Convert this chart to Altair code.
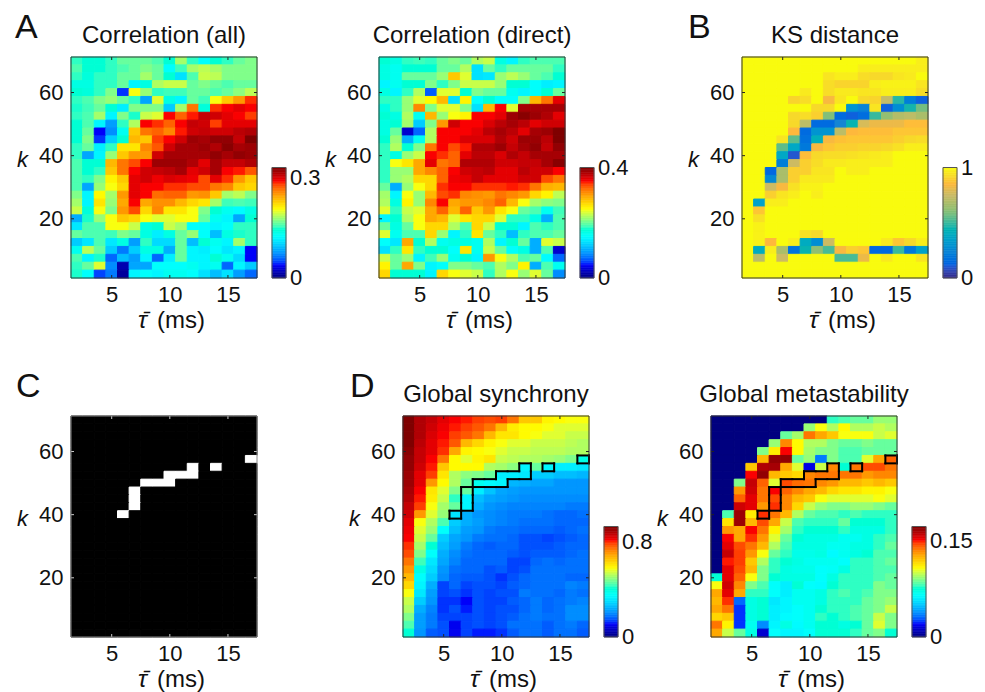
import altair as alt
import numpy as np
import pandas as pd

FONT = "Liberation Sans"
TAU = list(range(2, 18))
K = [70 - 2.5 * i for i in range(28)]

# cell values, top row (k = 70) first, as percent of each colour scale
corr_all = [
[46,44,44,46,50,50,50,48,44,55,46,38,44,46,50,52],
[48,44,44,46,48,50,52,50,38,47,55,57,55,52,52,52],
[46,43,46,46,50,50,55,50,44,33,48,58,57,52,52,52],
[42,42,46,46,50,36,42,56,58,58,50,52,50,48,50,50],
[44,43,46,52,14,62,54,46,47,47,50,50,48,50,53,57],
[46,48,52,54,50,46,25,60,42,36,50,47,62,70,76,86],
[45,47,50,44,35,52,52,52,30,55,80,43,86,88,90,88],
[46,48,55,36,52,45,58,60,88,82,87,93,92,90,88,85],
[44,48,36,24,46,56,88,86,82,88,93,92,85,90,90,90],
[44,50,12,22,40,70,80,82,78,87,92,93,92,92,94,95],
[44,52,14,30,44,72,70,85,88,92,97,96,98,98,93,100],
[46,50,35,46,66,66,78,83,92,96,96,97,95,99,96,97],
[46,25,36,54,70,76,76,92,96,96,96,96,98,96,98,97],
[48,44,44,72,80,84,88,97,97,97,95,90,96,93,93,95],
[48,44,46,70,80,88,92,93,94,96,90,92,96,88,87,83],
[48,46,52,64,70,90,92,89,91,90,89,84,90,86,76,70],
[48,25,54,62,68,90,88,88,86,86,84,84,80,78,70,68],
[52,36,63,55,76,90,88,81,82,82,76,77,70,55,57,52],
[55,36,66,54,74,88,74,77,77,72,68,66,55,47,48,47],
[58,43,62,52,76,84,68,78,66,66,62,52,44,40,37,42],
[26,45,54,62,70,68,62,60,60,62,62,50,40,36,25,44],
[34,48,48,62,62,58,42,44,58,55,38,38,36,38,46,46],
[50,48,48,47,52,50,42,35,42,50,54,38,28,42,45,46],
[30,34,48,34,42,24,46,32,32,50,28,44,40,36,55,46],
[40,57,50,30,20,30,42,42,26,50,36,35,38,34,36,12],
[48,36,45,18,28,24,36,18,35,50,36,36,44,40,32,12],
[46,50,60,22,5,25,25,38,38,38,40,36,40,18,36,30],
[45,38,15,20,3,36,38,36,40,40,38,33,28,33,24,18],
]
corr_direct = [
[44,42,46,47,46,50,52,50,56,58,42,36,46,48,48,48],
[42,40,44,44,44,50,50,56,33,50,46,50,50,50,50,46],
[42,40,50,50,50,54,70,60,33,34,54,57,54,50,48,44],
[36,40,44,44,52,46,52,58,58,58,54,44,44,38,35,36],
[42,36,46,56,17,60,60,44,52,50,50,40,36,38,44,50],
[46,46,54,60,63,72,33,64,38,44,38,38,52,72,80,90],
[42,46,54,78,52,60,60,52,33,72,88,60,96,96,96,96],
[44,42,56,40,72,54,62,64,88,88,90,97,99,97,95,90],
[42,44,55,30,52,76,92,88,88,91,94,96,94,90,92,92],
[42,50,8,18,56,88,88,88,90,94,96,94,90,96,97,100],
[44,54,26,40,56,88,88,91,91,91,95,92,97,97,94,100],
[46,56,44,52,80,88,84,87,95,95,97,93,96,98,93,98],
[46,42,54,58,88,86,82,90,94,94,91,95,93,96,96,96],
[46,62,66,74,90,80,82,95,95,95,92,92,93,93,96,99],
[46,54,54,74,78,82,88,92,93,94,90,90,94,92,92,88],
[46,54,56,68,68,82,89,90,93,90,90,90,92,92,84,80],
[50,26,54,62,68,86,88,88,86,86,86,87,86,80,73,72],
[55,36,62,54,72,84,86,78,77,76,80,78,76,68,64,57],
[56,42,64,54,78,88,74,76,76,78,82,72,62,55,53,52],
[60,46,58,60,74,82,72,82,70,76,66,62,50,48,40,47],
[36,44,56,62,74,72,60,66,68,68,60,46,46,42,26,48],
[50,42,50,62,68,68,56,48,68,58,44,44,36,48,46,48],
[60,40,48,48,68,54,36,46,66,50,46,28,46,48,48,50],
[38,34,74,44,56,40,42,42,40,56,36,44,50,26,60,58],
[33,46,66,46,44,44,38,66,40,58,50,38,42,26,48,8],
[58,50,54,36,47,54,40,44,36,76,62,56,48,50,37,18],
[64,50,74,52,36,38,52,52,50,48,56,52,64,26,48,40],
[68,44,44,44,36,68,62,60,58,46,56,62,54,60,50,22],
]
ks_distance = [
[100,100,100,100,100,100,100,100,100,100,100,100,100,100,100,97],
[100,100,100,100,100,100,100,100,100,100,97,97,97,97,97,97],
[100,100,100,100,100,100,100,95,97,97,93,92,92,95,96,100],
[100,100,100,100,100,100,100,93,91,91,91,97,98,98,98,95],
[100,100,100,100,100,96,100,93,96,96,95,95,97,97,97,93],
[100,100,100,100,91,93,100,84,95,100,92,91,74,48,22,12],
[100,100,100,100,100,100,92,92,100,30,24,95,12,28,46,58],
[100,100,100,100,92,93,90,60,15,12,16,50,63,70,72,68],
[100,100,100,100,92,72,15,15,25,45,78,82,82,82,86,86],
[100,100,100,100,85,15,30,30,72,85,86,86,86,88,88,88],
[100,100,100,95,55,17,42,84,87,88,88,88,88,90,92,93],
[100,100,100,55,38,20,84,88,90,90,91,91,92,94,97,97],
[100,100,100,38,10,86,92,93,93,94,95,96,97,100,100,100],
[100,100,100,22,76,90,93,96,96,97,97,97,97,100,100,100],
[100,100,14,68,90,90,95,95,100,97,97,100,100,100,100,100],
[100,100,26,68,90,96,96,96,100,100,100,100,100,100,100,100],
[100,100,76,84,94,98,98,100,100,100,100,100,100,100,100,100],
[100,100,90,95,97,100,97,100,100,100,100,100,100,100,100,100],
[100,35,97,97,100,100,100,100,100,100,100,100,100,100,100,100],
[100,88,100,100,100,100,100,100,100,100,100,100,100,100,100,100],
[100,94,100,100,100,100,100,100,100,100,100,100,100,100,100,100],
[100,98,100,100,100,100,100,100,100,100,100,100,100,100,100,100],
[100,98,100,100,100,94,92,100,100,100,100,100,100,100,100,100],
[100,98,85,100,97,40,28,76,100,100,100,100,96,88,92,97],
[100,40,97,68,18,45,62,52,84,90,88,14,14,50,20,35],
[100,72,100,76,100,100,100,100,52,52,82,100,96,100,100,95],
[100,100,100,100,100,100,100,100,100,100,100,100,100,100,100,100],
[100,100,100,100,100,100,100,100,100,100,100,100,100,100,100,100],
]
critical_rows = {5: [15], 6: [10, 12], 7: [8, 9, 10], 8: [6, 7, 8], 9: [5], 10: [5], 11: [5], 12: [4]}
synchrony = [
[100,95,93,90,88,87,85,84,85,80,70,70,64,63,62,62],
[100,95,92,89,87,85,83,80,72,65,63,63,62,60,60,60],
[100,95,91,88,85,83,80,72,66,66,63,62,60,60,58,58],
[100,94,90,87,83,72,68,64,62,60,60,58,58,58,57,56],
[99,93,90,86,74,64,63,62,60,58,58,57,57,57,56,56],
[98,93,88,80,63,60,64,66,58,57,56,56,55,54,52,42],
[98,92,87,70,63,63,63,56,55,53,36,50,36,35,35,34],
[97,90,85,66,56,53,52,50,35,35,34,30,30,28,28,27],
[97,90,76,63,56,50,40,37,36,27,26,25,25,23,23,23],
[96,88,66,60,52,50,35,29,25,24,23,23,23,23,23,23],
[95,87,65,58,46,36,28,25,24,23,22,22,22,22,22,22],
[93,85,62,55,50,36,26,23,22,21,21,21,21,21,20,20],
[92,76,60,54,33,26,23,22,21,20,20,20,19,18,18,19],
[90,62,56,48,30,26,24,22,21,20,19,19,19,18,18,18],
[89,60,54,38,28,24,23,20,19,19,18,18,18,17,18,19],
[88,58,50,30,25,23,20,19,19,18,16,16,15,16,17,18],
[86,55,44,28,24,20,18,17,18,18,16,16,16,17,18,18],
[84,52,38,26,22,19,18,18,18,17,16,17,17,17,18,19],
[80,47,34,25,21,18,18,18,18,15,15,18,19,18,19,19],
[76,42,32,23,19,18,18,16,17,15,16,19,19,19,19,19],
[72,38,30,22,18,17,17,16,14,16,18,19,19,19,18,18],
[68,36,26,15,18,15,16,16,15,17,18,19,19,19,21,20],
[62,34,24,15,16,14,16,15,16,16,20,19,19,18,20,19],
[58,30,23,14,14,12,16,15,15,17,18,20,18,19,20,21],
[56,26,21,14,16,13,16,15,16,16,18,20,18,19,22,22],
[52,24,20,15,15,15,16,15,16,17,19,20,19,19,22,22],
[48,24,20,16,11,15,16,15,16,19,19,19,17,19,20,18],
[44,23,17,16,11,15,13,13,14,17,19,19,17,19,19,17],
]
metastability = [
[0,0,0,0,0,0,0,0,0,0,46,48,50,50,54,54],
[0,0,0,0,0,0,0,0,54,62,56,63,56,56,58,56],
[0,0,0,0,0,0,50,55,80,74,70,62,62,62,58,60],
[0,0,0,0,0,54,78,63,56,56,52,50,50,52,50,50],
[0,0,0,0,52,65,88,63,55,52,52,48,48,50,50,50],
[0,0,0,0,72,98,98,50,54,20,52,48,48,60,74,82],
[0,0,0,70,95,96,74,60,10,58,78,44,80,84,84,80],
[0,0,0,88,98,72,70,68,78,80,80,80,80,76,78,78],
[0,0,52,93,82,60,84,81,80,78,76,72,72,70,72,70],
[0,0,76,92,80,88,82,78,74,72,68,66,66,64,64,62],
[0,0,82,90,80,84,78,72,70,62,60,60,60,60,62,60],
[0,0,92,90,76,86,78,68,58,54,52,52,54,54,52,50],
[0,48,97,65,86,80,72,56,50,48,48,46,48,46,46,46],
[0,66,97,72,84,74,58,48,46,46,46,50,44,44,44,46],
[0,76,74,88,80,64,55,46,44,44,44,46,42,42,42,46],
[0,88,74,86,76,60,50,44,42,42,42,40,40,42,46,48],
[0,90,84,80,72,56,48,42,42,42,40,40,42,42,46,50],
[0,93,85,76,62,50,46,41,41,42,37,40,42,44,48,48],
[0,87,85,70,56,46,44,42,40,40,40,38,46,46,48,50],
[0,90,84,72,52,46,42,41,41,38,39,42,46,46,48,48],
[44,90,82,62,52,44,42,42,42,38,42,46,46,46,48,50],
[62,92,78,52,48,38,35,44,38,37,44,46,46,46,52,50],
[74,90,74,46,46,38,35,40,40,42,46,48,46,48,52,52],
[72,86,18,42,44,34,36,40,40,42,46,46,46,50,52,54],
[74,80,14,42,44,35,36,38,40,44,46,46,48,50,52,58],
[68,70,14,42,44,35,37,38,40,46,44,46,48,50,58,52],
[80,64,14,40,22,36,42,37,40,44,44,42,44,50,60,52],
[74,58,50,42,8,38,36,36,38,44,44,44,46,50,52,44],
]

JET = ["#00007f", "#0000ff", "#00ffff", "#ffff00", "#ff0000", "#7f0000"]
JET_STOPS = [0, .125, .375, .625, .875, 1]
PARULA = ["#352a87", "#0363e1", "#1485d4", "#06a7c6", "#38b99e", "#92bf73", "#c9bb66", "#feb83c", "#f7d92a", "#f9fb0e"]
PARULA_STOPS = [0, .125, .25, .375, .5, .625, .75, .85, .92, 1]

W, H = 186, 221
X_SCALE = alt.Scale(domain=[1.5, 17.5], nice=False, zero=False)
Y_SCALE = alt.Scale(domain=[1.25, 71.25], nice=False, zero=False)


def text(s, x, y, size=24, align="left", style="normal", baseline="alphabetic"):
    return alt.Chart(pd.DataFrame({"t": [s]})).mark_text(
        font=FONT, fontSize=size, align=align, baseline=baseline, fontStyle=style, color="#111"
    ).encode(x=alt.value(x), y=alt.value(y), text="t:N")


def frame(w, h, color="#333"):
    return alt.Chart(pd.DataFrame({"a": [0]})).mark_rect(
        fill="transparent", stroke=color, strokeWidth=1
    ).encode(x=alt.value(0), x2=alt.value(w), y=alt.value(0), y2=alt.value(h))


def color_scale(vmax, stops, colors):
    return alt.Scale(domain=[s * vmax for s in stops], range=colors, clamp=True)


def panel(rows, vmax, stops, colors, title, letter, letter_x, mask=None, tick_color="#222", frame_color="#333"):
    recs = []
    for r, row in enumerate(rows):
        assert len(row) == 16, (title, r)
        for c, v in enumerate(row):
            recs.append({"x1": TAU[c] - .5, "x2": TAU[c] + .5, "y1": K[r] - 1.25, "y2": K[r] + 1.25,
                         "v": v / 100 * vmax})
    assert len(rows) == 28, title
    df = pd.DataFrame(recs)
    scale = color_scale(vmax, stops, colors)
    x_axis = alt.Axis(values=[5, 10, 15], ticks=False, domain=False, grid=False, title=None, labelFont=FONT,
                      labelFontSize=22, labelColor="#111", labelPadding=6, labelAngle=0)
    y_axis = alt.Axis(values=[20, 40, 60], ticks=False, domain=False, grid=False, labelFont=FONT, labelFontSize=22,
                      labelColor="#111", labelPadding=8, title="k", titleFont=FONT, titleFontSize=22,
                      titleFontStyle="italic", titleFontWeight="normal", titleAngle=0, titleAlign="center",
                      titleBaseline="alphabetic", titleX=-49, titleY=109, titleColor="#111")
    base = alt.Chart(df).mark_rect(strokeWidth=1).encode(
        x=alt.X("x1:Q", scale=X_SCALE, axis=x_axis),
        x2="x2:Q",
        y=alt.Y("y1:Q", scale=Y_SCALE, axis=y_axis),
        y2="y2:Q",
        color=alt.Color("v:Q", scale=scale, legend=None),
        stroke=alt.Stroke("v:Q", scale=scale, legend=None),
    )
    layers = [base]
    if mask is not None:
        edges = []
        cells = {(r, c) for r, cs in mask.items() for c in cs}
        for (r, c) in sorted(cells):
            xl, xr = TAU[c] - .5, TAU[c] + .5
            yb, yt = K[r] - 1.25, K[r] + 1.25
            if (r - 1, c) not in cells:
                edges.append((xl, xr, yt, yt))
            if (r + 1, c) not in cells:
                edges.append((xl, xr, yb, yb))
            if (r, c - 1) not in cells:
                edges.append((xl, xl, yb, yt))
            if (r, c + 1) not in cells:
                edges.append((xr, xr, yb, yt))
        e = pd.DataFrame(edges, columns=["a", "b", "c", "d"])
        layers.append(alt.Chart(e).mark_rule(color="#000", strokeWidth=2, strokeCap="square").encode(
            x=alt.X("a:Q", scale=X_SCALE), x2="b:Q", y=alt.Y("c:Q", scale=Y_SCALE), y2="d:Q"))
    xt = pd.DataFrame({"t": [5, 10, 15]})
    yt = pd.DataFrame({"t": [20, 40, 60]})
    for y0, y1 in ((H, H - 3), (0, 3)):
        layers.append(alt.Chart(xt).mark_rule(color=tick_color, strokeWidth=1).encode(
            x=alt.X("t:Q", scale=X_SCALE), y=alt.value(y0), y2=alt.value(y1)))
    for x0, x1 in ((0, 3), (W, W - 3)):
        layers.append(alt.Chart(yt).mark_rule(color=tick_color, strokeWidth=1).encode(
            y=alt.Y("t:Q", scale=Y_SCALE), x=alt.value(x0), x2=alt.value(x1)))
    layers.append(frame(W, H, frame_color))
    layers.append(text("\u03c4\u0304", 67, H + 50, style="italic"))
    layers.append(text("(ms)", 86, H + 50))
    if title:
        layers.append(text(title, W / 2, -14, align="center"))
    if letter:
        layers.append(text(letter, letter_x, -19, size=34))
    return alt.layer(*layers).properties(width=W, height=H)


def gap(width, vmax=None, stops=None, colors=None, labels=None, label_names=None):
    if vmax is None:
        return alt.Chart(pd.DataFrame({"a": [0]})).mark_rect(opacity=0).encode(
            x=alt.value(0), x2=alt.value(1), y=alt.value(0), y2=alt.value(1)
        ).properties(width=width, height=H)
    levels = np.linspace(0, vmax, 65)
    d = pd.DataFrame({"y1": levels[:-1], "y2": levels[1:], "v": (levels[:-1] + levels[1:]) / 2})
    y_scale = alt.Scale(domain=[0, 2 * vmax], nice=False, zero=False)
    scale = color_scale(vmax, stops, colors)
    ramp = alt.Chart(d).mark_rect(strokeWidth=0.6).encode(
        x=alt.value(15), x2=alt.value(29),
        y=alt.Y("y1:Q", scale=y_scale, axis=None), y2="y2:Q",
        color=alt.Color("v:Q", scale=scale, legend=None),
        stroke=alt.Stroke("v:Q", scale=scale, legend=None),
    )
    outline = alt.Chart(pd.DataFrame({"a": [0], "b": [vmax]})).mark_rect(
        fill="transparent", stroke="#555", strokeWidth=1
    ).encode(x=alt.value(15), x2=alt.value(29), y=alt.Y("a:Q", scale=y_scale, axis=None), y2="b:Q")
    lab = alt.Chart(pd.DataFrame({"v": labels, "t": label_names})).mark_text(
        font=FONT, fontSize=22, align="left", baseline="middle", color="#111"
    ).encode(x=alt.value(33), y=alt.Y("v:Q", scale=y_scale, axis=None), text="t:N")
    return alt.layer(ramp, outline, lab).properties(width=width, height=H)


row1 = alt.hconcat(
    panel(corr_all, 0.333, JET_STOPS, JET, "Correlation (all)", "A", -56),
    gap(122, 0.333, JET_STOPS, JET, [0, 0.3], ["0", "0.3"]),
    panel(corr_direct, 0.4, JET_STOPS, JET, "Correlation (direct)", None, 0),
    gap(177, 0.4, JET_STOPS, JET, [0, 0.4], ["0", "0.4"]),
    panel(ks_distance, 1.0, PARULA_STOPS, PARULA, "KS distance", "B", -54),
    gap(40, 1.0, PARULA_STOPS, PARULA, [0, 1], ["0", "1"]),
    spacing=0, bounds="flush",
).resolve_scale(color="independent", stroke="independent")
row2 = alt.hconcat(
    panel([[100 if c in critical_rows.get(r, []) else 0 for c in range(16)] for r in range(28)], 1.0, [0, 1],
          ["#000000", "#ffffff"], None, "C", -55, tick_color="#ccc", frame_color="#888"),
    gap(146),
    panel(synchrony, 0.93, JET_STOPS, JET, "Global synchrony", "D", -53, mask=critical_rows),
    gap(122, 0.93, JET_STOPS, JET, [0, 0.8], ["0", "0.8"]),
    panel(metastability, 0.172, JET_STOPS, JET, "Global metastability", None, 0, mask=critical_rows),
    gap(40, 0.172, JET_STOPS, JET, [0, 0.15], ["0", "0.15"]),
    spacing=0, bounds="flush",
).resolve_scale(color="independent", stroke="independent")

chart = alt.vconcat(row1, row2, spacing=37).resolve_scale(color="independent", stroke="independent").properties(
    padding={"left": 7, "top": 3, "right": 0, "bottom": 0}
).configure_view(stroke=None)

chart.save("out.html", embed_options={"renderer": "svg", "actions": False})
